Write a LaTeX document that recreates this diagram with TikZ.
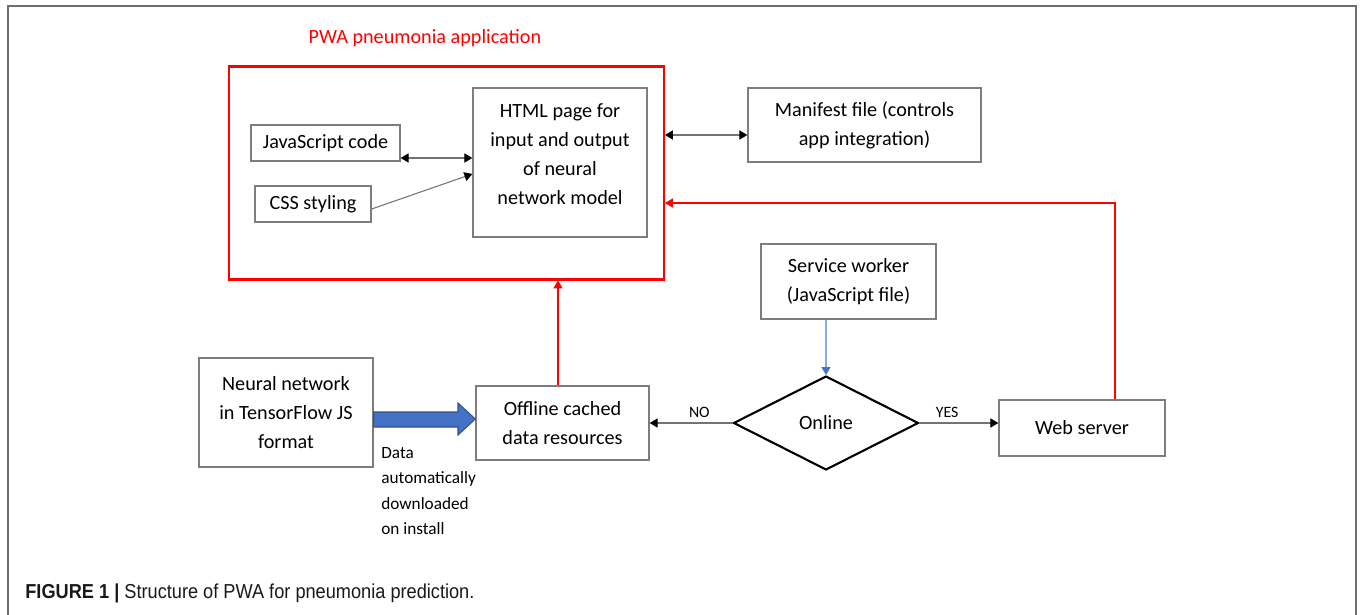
\documentclass[tikz,border=0pt]{standalone}
\usepackage{fontspec}
\setmainfont{Carlito}
\newfontfamily\capfont[FakeStretch=0.9]{Liberation Sans}
\usetikzlibrary{shapes.geometric,arrows.meta}

\definecolor{appred}{RGB}{255,0,0}
\definecolor{boxgray}{RGB}{125,125,125}
\definecolor{framegray}{RGB}{110,110,110}
\definecolor{fillblue}{RGB}{68,114,196}
\definecolor{edgeblue}{RGB}{47,82,143}
\definecolor{lineblue}{RGB}{143,170,220}

\tikzset{
  box/.style={draw=boxgray, line width=0.8pt, align=center, inner sep=2pt,
    font=\fontsize{11.5}{16.5}\selectfont},
  conn/.style={draw=black!55, line width=0.6pt,
    -{Triangle[black, length=4.5pt, width=5.2pt]}},
  biconn/.style={conn, {Triangle[black, length=4.5pt, width=5.2pt]}-{Triangle[black, length=4.5pt, width=5.2pt]}},
  redconn/.style={draw=appred, line width=0.6pt,
    -{Triangle[appred, length=4.5pt, width=5.2pt]}},
  blueconn/.style={draw=lineblue, line width=0.6pt,
    -{Triangle[fillblue, length=4.5pt, width=5.2pt]}},
  bigarrow/.style={fill=fillblue, draw=edgeblue, line width=0.6pt},
  edgelabel/.style={font=\fontsize{9}{11}\selectfont, inner sep=1pt}
}

\begin{document}
\begin{tikzpicture}[x=0.02cm, y=-0.02cm]
\useasboundingbox (0,0) rectangle (1360,615);

% page frame, open at the bottom
\draw[framegray, line width=0.8pt] (8,615) -- (8,6) -- (1356,6) -- (1356,615);

% the application itself
\node[draw=appred, line width=1.2pt, minimum width=8.7cm, minimum height=4.26cm] (app) at (446.5,173) {};
\node[text=appred, font=\fontsize{11.5}{14}\selectfont] (apptitle) at (425,38) {PWA pneumonia application};

\node[box, minimum width=2.98cm, minimum height=0.72cm] (js) at (325.5,143) {JavaScript code};
\node[box, minimum width=2.32cm, minimum height=0.72cm] (css) at (313,204) {CSS styling};
\node[box, minimum width=3.48cm, minimum height=2.98cm] (html) at (560,162.5)
  {HTML page for\\input and output\\of neural\\network model\\[-7pt]};
\node[box, minimum width=4.66cm, minimum height=1.48cm] (mani) at (864.5,125)
  {Manifest file (controls\\app integration)};

% offline / online path
\node[box, minimum width=3.5cm, minimum height=1.5cm] (serv) at (848.5,281.5)
  {Service worker\\(JavaScript file)};
\node[diamond, draw=black, line width=1.2pt, minimum width=3.7cm, minimum height=1.88cm,
  inner sep=0pt, font=\fontsize{11.5}{14}\selectfont] (online) at (826,423) {Online};
\node[box, minimum width=3.32cm, minimum height=1.12cm] (web) at (1082,428) {Web server};
\node[box, minimum width=3.46cm, minimum height=1.48cm] (offline) at (562.5,423)
  {Offline cached\\data resources};
\node[box, minimum width=3.48cm, minimum height=2.18cm] (neural) at (286,412.5)
  {Neural network\\in TensorFlow JS\\format};

\node[anchor=north west, align=left, inner sep=0pt,
  font=\fontsize{9.8}{14.5}\selectfont] (dl) at (381,447)
  {Data\\automatically\\downloaded\\on install};

% connectors
\draw[biconn] (js.east |- 0,158) -- (html.west |- 0,158);
\draw[conn] (css.east |- 0,209) -- (html.west |- 0,174);
\draw[biconn] (app.east |- 0,135) -- (mani.west |- 0,135);
\draw[redconn] (web.north -| 1115,0) |- (app.east |- 0,203);
\draw[redconn] (offline.north -| 558,0) -- (app.south -| 558,0);
\draw[blueconn] (serv.south -| online.north) -- (online.north);
\draw[conn] (online.west) -- node[edgelabel, above=2pt, pos=0.4] {NO} (offline.east);
\draw[conn] (online.east) -- node[edgelabel, above=2pt, pos=0.35] {YES} (web.west |- online.east);

% download arrow
\draw[bigarrow] (neural.east |- 0,412) -- (458,412) -- (458,403) -- (offline.west |- 0,419)
  -- (458,435) -- (458,427) -- (neural.east |- 0,427) -- cycle;

\node[anchor=west, inner sep=0pt, text=black!90, font=\capfont\fontsize{11.5}{13}\selectfont] (cap) at (25,593)
  {\textbf{FIGURE 1 |} Structure of PWA for pneumonia prediction.};

\end{tikzpicture}
\end{document}
